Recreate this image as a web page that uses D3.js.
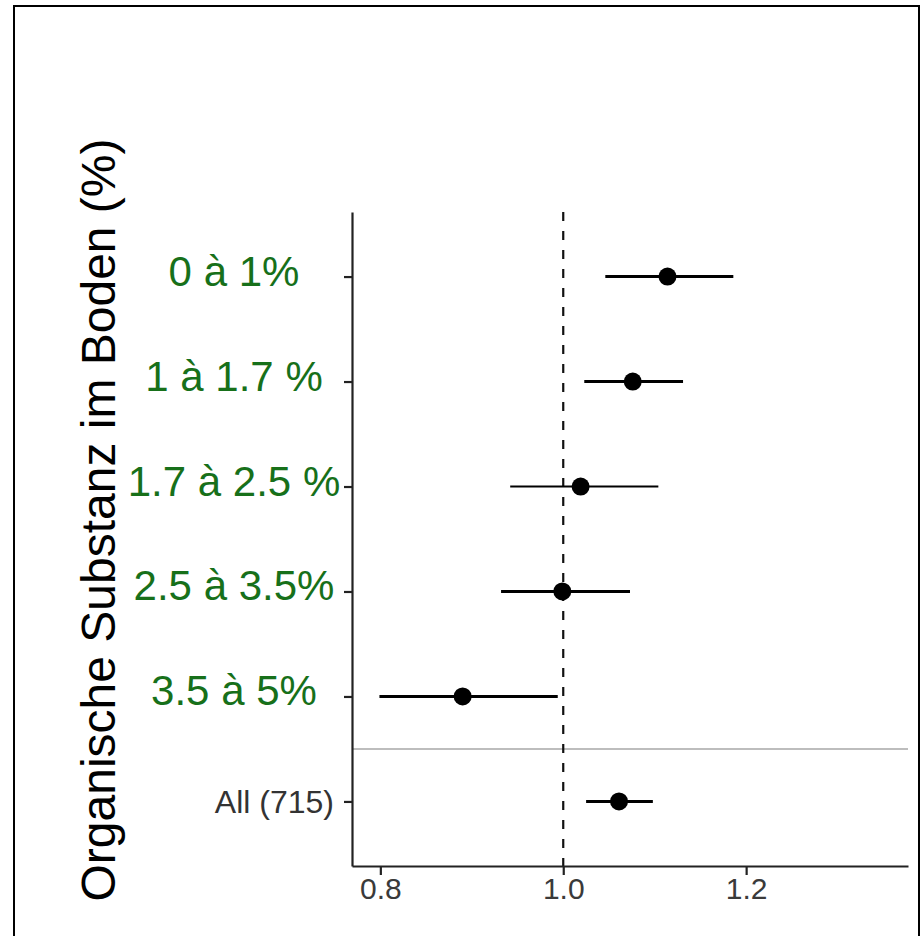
<!DOCTYPE html>
<html>
<head>
<meta charset="utf-8">
<script src="https://cdn.jsdelivr.net/npm/d3@7"></script>
<style>
  body { margin: 0; background: #fff; }
  svg { display: block; }
  .frame { fill: none; stroke: #000; stroke-width: 2; }
  .grpLabel { font-family: "Liberation Sans", Arial, sans-serif; font-size: 42px; fill: #17701a; }
  .allLabel { font-family: "Liberation Sans", Arial, sans-serif; font-size: 32px; fill: #333; }
  .yTitle { font-family: "Liberation Sans", Arial, sans-serif; font-size: 48px; fill: #000; }
  .xAxis text { font-family: "Liberation Sans", Arial, sans-serif; font-size: 30px; }
</style>
</head>
<body>
<svg id="chart" width="924" height="936"></svg>
<script>
// rows, top to bottom
var categories = ["0 à 1%", "1 à 1.7 %", "1.7 à 2.5 %", "2.5 à 3.5%", "3.5 à 5%", "All (715)"];
var estimate = [1.114, 1.076, 1.019, 0.999, 0.890, 1.061];
var ciLow    = [1.046, 1.023, 0.942, 0.932, 0.799, 1.025];
var ciHigh   = [1.186, 1.131, 1.104, 1.073, 0.994, 1.098];
var xTicks   = [0.8, 1.0, 1.2];
var refValue = 1.0;
var yTitle   = "Organische Substanz im Boden (%)";

var svg = d3.select("#chart");

// border round the whole picture
svg.append("rect")
	.attr("class", "frame")
	.attr("x", 14).attr("y", 6)
	.attr("width", 905).attr("height", 940);

var x = d3.scaleLinear()
	.domain([0.769, 1.377])
	.range([352, 908]);

var y = d3.scalePoint()
	.domain(categories)
	.range([212, 866])
	.padding(0.615);

var rows = categories.map(function(c, i){
	return {name: c, est: estimate[i], lo: ciLow[i], hi: ciHigh[i], i: i};
});

// separator between the subgroups and the overall row
var sepY = (y(categories[4]) + y(categories[5])) / 2;
svg.append("line")
	.attr("x1", x.range()[0]).attr("x2", x.range()[1])
	.attr("y1", sepY).attr("y2", sepY)
	.attr("stroke", "#bdbdbd")
	.attr("stroke-width", 2);

// reference line at 1
svg.append("line")
	.attr("x1", x(refValue)).attr("x2", x(refValue))
	.attr("y1", y.range()[0]).attr("y2", y.range()[1])
	.attr("stroke", "#111")
	.attr("stroke-width", 2.2)
	.attr("stroke-dasharray", "9,10");

// axes
var yAxis = svg.append("g")
	.attr("transform", "translate(" + x.range()[0] + ",0)")
	.call(d3.axisLeft(y).tickSize(8).tickSizeOuter(0).tickFormat(""));
yAxis.select(".domain").attr("stroke", "#222").attr("stroke-width", 2.2);
yAxis.selectAll(".tick line").attr("stroke", "#222").attr("stroke-width", 2.2);

var xAxis = svg.append("g")
	.attr("class", "xAxis")
	.attr("transform", "translate(0," + y.range()[1] + ")")
	.call(d3.axisBottom(x).tickValues(xTicks).tickSize(9).tickSizeOuter(0).tickFormat(d3.format(".1f")));
xAxis.select(".domain").attr("stroke", "#222").attr("stroke-width", 2.2);
xAxis.selectAll(".tick line").attr("stroke", "#222").attr("stroke-width", 2.2);
xAxis.selectAll(".tick text").attr("y", 12).attr("dy", "0.71em").attr("fill", "#3a3a3a");

// error bars and points
var g = svg.append("g");
g.selectAll("line.ci")
	.data(rows)
	.enter().append("line")
	.attr("class", "ci")
	.attr("x1", function(d){ return x(d.lo); })
	.attr("x2", function(d){ return x(d.hi); })
	.attr("y1", function(d){ return y(d.name); })
	.attr("y2", function(d){ return y(d.name); })
	.attr("stroke", "#000")
	.attr("stroke-width", function(d){ return d.i == 2 ? 2 : 3; });

g.selectAll("circle")
	.data(rows)
	.enter().append("circle")
	.attr("cx", function(d){ return x(d.est); })
	.attr("cy", function(d){ return y(d.name); })
	.attr("r", 9)
	.attr("fill", "#000");

// row labels: green overlay for subgroups, plain for the overall row
svg.selectAll("text.grpLabel")
	.data(rows.slice(0, 5))
	.enter().append("text")
	.attr("class", "grpLabel")
	.attr("x", 234)
	.attr("y", function(d){ return y(d.name) + 9; })
	.attr("text-anchor", "middle")
	.text(function(d){ return d.name; });

svg.append("text")
	.attr("class", "allLabel")
	.attr("x", 334)
	.attr("y", y(categories[5]))
	.attr("dy", "0.35em")
	.attr("text-anchor", "end")
	.text(categories[5]);

// y title
svg.append("text")
	.attr("class", "yTitle")
	.attr("transform", "translate(115,520) rotate(-90)")
	.attr("text-anchor", "middle")
	.text(yTitle);
</script>
</body>
</html>
